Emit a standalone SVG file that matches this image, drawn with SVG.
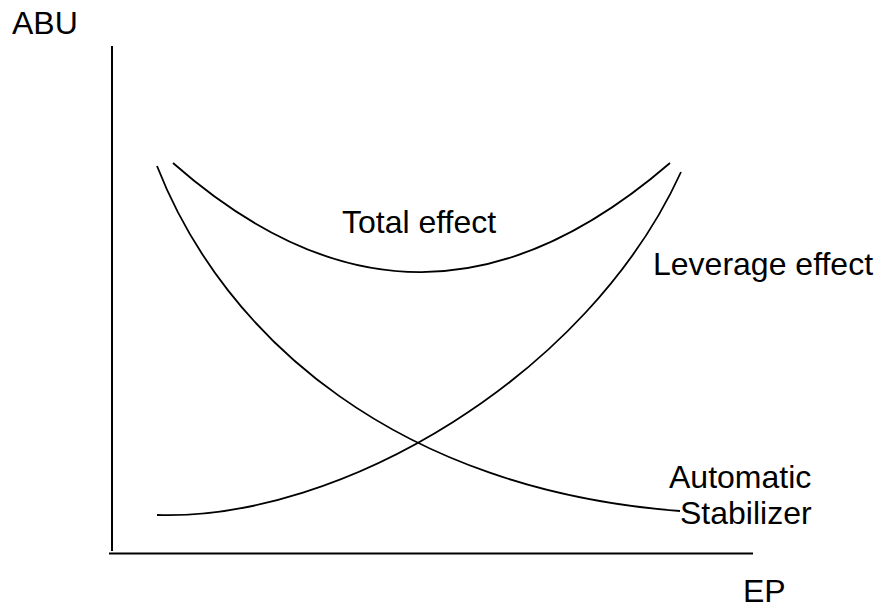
<svg xmlns="http://www.w3.org/2000/svg" width="877" height="610" viewBox="0 0 877 610">
<style>
text{font-family:"Liberation Sans",Arial,sans-serif;font-size:32px;fill:#000}
.axis{stroke:#000;stroke-width:2;fill:none}
.curve{stroke:#000;stroke-width:1.8;fill:none}
</style>
<rect width="877" height="610" fill="#fff"/>
<g id="axes">
<line class="axis" x1="112" y1="46" x2="112" y2="551"/>
<line class="axis" x1="109" y1="553.5" x2="753" y2="553.5"/>
<text x="12" y="34">ABU</text>
<text x="743" y="602">EP</text>
</g>
<g id="connectors">
<path id="leverage-curve" class="curve" d="M157,515 C340,521 588,376 681,172"/>
<path id="stabilizer-curve" class="curve" d="M157,166 C225,340 400,490 680,511"/>
<path id="total-curve" class="curve" d="M173,163 C340,310 503,307 670,163"/>
</g>
<g id="total-effect"><text x="342" y="233">Total effect</text></g>
<g id="leverage-effect"><text x="653" y="275">Leverage effect</text></g>
<g id="automatic-stabilizer"><text x="669" y="488">Automatic</text><text x="680" y="524">Stabilizer</text></g>
</svg>
